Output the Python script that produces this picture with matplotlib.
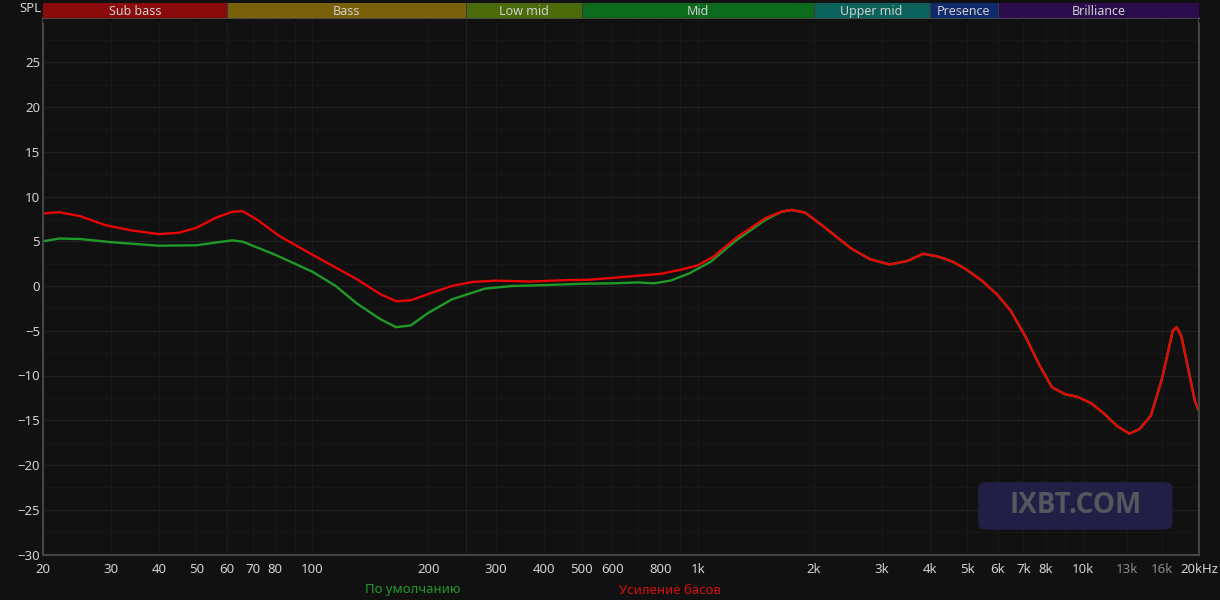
"""Frequency response chart: default vs bass boost."""

import matplotlib
matplotlib.use('Agg')
import matplotlib.pyplot as plt
from matplotlib.patches import FancyBboxPatch
from matplotlib.ticker import FixedLocator, NullFormatter

plt.rcParams['font.family'] = ['Noto Sans', 'DejaVu Sans']

# bass boost curve (Hz, dB)
boost_freq = [20, 22, 25, 29, 34, 40, 45, 50, 56, 62, 66, 72, 82, 100, 130, 150, 165,
              180, 200, 230, 260, 300, 370, 450, 520, 600, 700, 800, 900, 1000, 1100,
              1260, 1500, 1650, 1750, 1900, 2100, 2500, 2800, 3150, 3500, 3850, 4200,
              4600, 5000, 5500, 6000, 6500, 7100, 7700, 8300, 9000, 9700, 10500, 11300,
              12300, 13200, 14000, 15000, 16000, 16500, 17100, 17500, 18000, 18700,
              19500, 20000]
boost_db = [8.1, 8.25, 7.8, 6.8, 6.2, 5.8, 5.95, 6.5, 7.6, 8.3, 8.35, 7.4, 5.6, 3.5, 0.8,
            -0.9, -1.7, -1.6, -0.9, 0.0, 0.45, 0.6, 0.5, 0.65, 0.7, 0.9, 1.15, 1.35, 1.8,
            2.3, 3.3, 5.4, 7.6, 8.3, 8.5, 8.2, 6.8, 4.2, 3.0, 2.4, 2.8, 3.6, 3.3, 2.7,
            1.8, 0.5, -1.0, -2.8, -5.7, -8.8, -11.3, -12.1, -12.4, -13.1, -14.2, -15.7,
            -16.5, -16.0, -14.5, -10.5, -8.0, -5.0, -4.6, -5.6, -9.0, -12.8, -14.0]

# default curve (Hz, dB)
default_freq = [20, 22, 25, 30, 40, 50, 56, 62, 66, 80, 100, 115, 130, 150, 165, 180,
                200, 230, 280, 330, 400, 500, 600, 700, 770, 850, 950, 1080, 1250, 1500,
                1650, 1750, 1900, 2100, 2500, 2800, 3150, 3500, 3850, 4200, 4600, 5000,
                5500, 6000, 6500, 7100, 7700, 8300, 9000, 9700, 10500, 11300, 12300,
                13200, 14000, 15000, 16000, 16500, 17100, 17500, 18000, 18700, 19500,
                20000]
default_db = [5.0, 5.3, 5.25, 4.9, 4.5, 4.55, 4.85, 5.1, 4.95, 3.5, 1.6, 0.0, -1.9, -3.7,
              -4.6, -4.4, -3.0, -1.5, -0.3, 0.0, 0.1, 0.25, 0.3, 0.4, 0.3, 0.6, 1.4, 2.7,
              5.0, 7.4, 8.3, 8.5, 8.2, 6.8, 4.2, 3.0, 2.4, 2.8, 3.6, 3.3, 2.7, 1.8, 0.5,
              -1.0, -2.8, -5.7, -8.8, -11.3, -12.1, -12.4, -13.1, -14.2, -15.7, -16.5,
              -16.0, -14.5, -10.5, -8.0, -5.0, -4.6, -5.6, -9.0, -12.8, -14.0]

# frequency bands shown above the plot
band_names = ["Sub bass", "Bass", "Low mid", "Mid", "Upper mid", "Presence", "Brilliance"]
band_edges = [20, 60, 250, 500, 2000, 4000, 6000, 20000]
band_colors = ["#8a0b0b", "#7a6109", "#4b6b0b", "#0b6a1c", "#0b625a", "#0f2b6b", "#2b0c4c"]

x_ticks = [20, 30, 40, 50, 60, 70, 80, 100, 200, 300, 400, 500, 600, 800, 1000, 2000,
           3000, 4000, 5000, 6000, 7000, 8000, 10000, 13000, 16000, 20000]
x_labels = ["20", "30", "40", "50", "60", "70", "80", "100", "200", "300", "400", "500",
            "600", "800", "1k", "2k", "3k", "4k", "5k", "6k", "7k", "8k", "10k", "13k",
            "16k", "20kHz"]
y_ticks = [-30, -25, -20, -15, -10, -5, 0, 5, 10, 15, 20, 25]

BG = "#111111"
TEXT = "#d2d2d2"

fig = plt.figure(figsize=(12.2, 6), dpi=100, facecolor=BG)
ax = fig.add_axes([43 / 1220, 45.5 / 600, 1156 / 1220, 537 / 600], facecolor=BG)

ax.set_xscale("log")
ax.set_xlim(20, 20000)
ax.set_ylim(-30, 30)

# grid
minor_x = [f * m for m in (10, 100, 1000) for f in range(2, 10)] + [20000]
ax.xaxis.set_minor_locator(FixedLocator(minor_x))
ax.xaxis.set_minor_formatter(NullFormatter())
ax.set_xticks(x_ticks)
ax.set_xticklabels(x_labels)
ax.set_yticks(y_ticks)
ax.set_yticks([-27.5, -22.5, -17.5, -12.5, -7.5, -2.5, 2.5, 7.5, 12.5, 17.5, 22.5, 27.5],
              minor=True)
ax.grid(True, which="major", axis="y", color="#202020", linewidth=1.0)
ax.grid(True, which="minor", axis="y", color="#171717", linewidth=0.8)
ax.grid(True, which="both", axis="x", color="#191919", linewidth=0.8)
for f in (60, 250, 500, 2000, 4000, 6000):
    ax.axvline(f, color="#202020", linewidth=1.0, zorder=0.5)

ax.tick_params(axis="both", which="both", length=0, colors=TEXT, labelsize=9.5)
ax.tick_params(axis="x", pad=6)
ax.tick_params(axis="y", pad=2)
for lbl in ax.get_xticklabels():
    if lbl.get_text() in ("13k", "16k"):
        lbl.set_color("#8a8a8a")

for side in ("left", "bottom", "right"):
    ax.spines[side].set_color("#444444")
    ax.spines[side].set_linewidth(1.5)
ax.spines["top"].set_visible(False)

# curves
ax.plot(default_freq, default_db, color="#1f9a28", linewidth=1.7, solid_joinstyle="round")
ax.plot(boost_freq, boost_db, color="#e80606", linewidth=1.7, solid_joinstyle="round")

# watermark
wm = FancyBboxPatch((0.809, 0.046), 0.168, 0.089, transform=ax.transAxes,
                    boxstyle="round,pad=0,rounding_size=0.01", facecolor="#25214c",
                    edgecolor="none", alpha=0.9, zorder=3)
ax.add_patch(wm)
ax.text(0.893, 0.091, "IXBT.COM", transform=ax.transAxes, ha="center", va="center",
        fontsize=20, fontweight="bold", color="#56565e", family=["Open Sans", "DejaVu Sans"],
        zorder=4)

# band bar
bax = fig.add_axes([43 / 1220, 581 / 600, 1156 / 1220, 16 / 600], facecolor=BG)
bax.set_xscale("log")
bax.set_xlim(20, 20000)
bax.set_ylim(0, 1)
for name, lo, hi, col in zip(band_names, band_edges[:-1], band_edges[1:], band_colors):
    bax.axvspan(lo, hi, color=col, linewidth=0)
    bax.axvline(hi, color="#3a3a3a", linewidth=0.8)
    mid = (lo * hi) ** 0.5
    bax.text(mid, 0.45, name, ha="center", va="center", fontsize=9, color="#cfcfcf")
bax.set_xticks([])
bax.set_yticks([])
for s in bax.spines.values():
    s.set_visible(False)
bax.axhline(0, color="#4a4a4a", linewidth=2)

fig.text(41 / 1220, 1 - 8 / 600, "SPL", ha="right", va="center", fontsize=9.5, color=TEXT)

# legend labels below
fig.text(413 / 1220, 1 - 590 / 600, "По умолчанию", ha="center", va="center",
         fontsize=9.5, color="#23992a")
fig.text(670 / 1220, 1 - 590 / 600, "Усиление басов", ha="center", va="center",
         fontsize=9.5, color="#d81010")

fig.savefig("out.png", dpi=100, facecolor=BG)
